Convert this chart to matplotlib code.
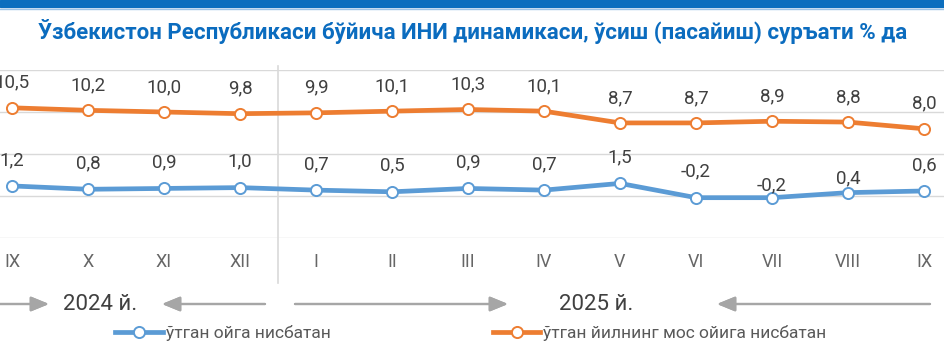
import matplotlib
matplotlib.use('Agg')
import matplotlib.pyplot as plt
from matplotlib.lines import Line2D
from matplotlib.patches import Rectangle

# data
months = ['IX', 'X', 'XI', 'XII', 'I', 'II', 'III', 'IV', 'V', 'VI', 'VII', 'VIII', 'IX']
mom = [1.2, 0.8, 0.9, 1.0, 0.7, 0.5, 0.9, 0.7, 1.5, -0.2, -0.2, 0.4, 0.6]
yoy = [10.5, 10.2, 10.0, 9.8, 9.9, 10.1, 10.3, 10.1, 8.7, 8.7, 8.9, 8.8, 8.0]
years = ['2024 й.', '2025 й.']
title = 'Ўзбекистон Республикаси бўйича ИНИ динамикаси, ўсиш (пасайиш) суръати % да'
mom_label = 'ўтган ойга нисбатан'
yoy_label = 'ўтган йилнинг мос ойига нисбатан'

plt.rcParams['font.family'] = ['Roboto', 'DejaVu Sans']

W, H = 945, 355
BLUE = '#5B9BD5'
ORANGE = '#ED7D31'
TXT = '#404040'
GRID = '#D9D9D9'


def fx(px):
    return px / W


def fy(py):
    return 1 - py / H


fig = plt.figure(figsize=(W / 100, H / 100), dpi=100)

# top band
fig.patches.append(Rectangle((0, fy(7)), 1, 7 / H, transform=fig.transFigure,
                             color='#0B6EBE', zorder=0))
fig.add_artist(Line2D([0, 1], [fy(8.5), fy(8.5)], transform=fig.transFigure,
                      color='#9DC3E6', lw=1))

fig.text(fx(473), fy(32), title, ha='center', va='center', fontsize=16,
         fontweight='bold', color='#0B6CBF')

ax = fig.add_axes([0, fy(238), 1, (238 - 70) / H])
x = list(range(len(months)))
ax.set_xlim(-12 / 76, 933 / 76)
ax.set_ylim(-5, 15)
ax.set_yticks([-5, 0, 5, 10, 15])
ax.grid(axis='y', color=GRID, lw=1)
ax.set_axisbelow(True)
ax.tick_params(axis='y', left=False, labelleft=False)
ax.set_xticks(x)
ax.set_xticklabels(months)
ax.tick_params(axis='x', length=0, pad=11, labelsize=13, labelcolor='#666666')
for s in ax.spines.values():
    s.set_visible(False)

# separator between years
ax.axvline(3.5, ymin=-0.268, ymax=1.024, color=GRID, lw=1.2, clip_on=False)

style = dict(lw=3.4, marker='o', ms=8, mfc='white', mew=1.4)
ax.plot(x, yoy, color=ORANGE, **style)
ax.plot(x, mom, color=BLUE, **style)

mom_off = [18.7] * len(mom)
mom_off[10] = 8.6
mom_off[11] = 10

for i, v in enumerate(yoy):
    ax.annotate(f'{v:.1f}'.replace('.', ','), (i, v), xytext=(0, 18),
                textcoords='offset points', ha='center', va='center',
                fontsize=13.5, color=TXT)
for i, v in enumerate(mom):
    ax.annotate(f'{v:.1f}'.replace('.', ','), (i, v), xytext=(0, mom_off[i]),
                textcoords='offset points', ha='center', va='center',
                fontsize=13.5, color=TXT)

# year labels with arrows
fig.text(fx(100), fy(304), years[0], ha='center', va='center', fontsize=16,
         color=TXT)
fig.text(fx(596), fy(304), years[1], ha='center', va='center', fontsize=16,
         color=TXT)
arrows = [(0, 49), (265, 162), (295, 508), (930, 717)]
for tail, head in arrows:
    fig.add_artist(plt.annotate('', xy=(fx(head), fy(304)), xycoords='figure fraction',
                                xytext=(fx(tail), fy(304)), textcoords='figure fraction',
                                arrowprops=dict(arrowstyle='-|>,head_length=1.1,head_width=0.45',
                                                color='#A6A6A6', lw=1.6, shrinkA=0, shrinkB=0,
                                                mutation_scale=10)))

handles = [Line2D([], [], color=BLUE, **style), Line2D([], [], color=ORANGE, **style)]
fig.legend(handles, [mom_label, yoy_label], ncol=2, loc='center',
           bbox_to_anchor=(fx(471), fy(333)), frameon=False, fontsize=12.5,
           labelcolor='#595959', handlelength=2.76, handletextpad=0.17,
           columnspacing=9.3, borderpad=0, borderaxespad=0)

fig.savefig('out.png', dpi=100)
